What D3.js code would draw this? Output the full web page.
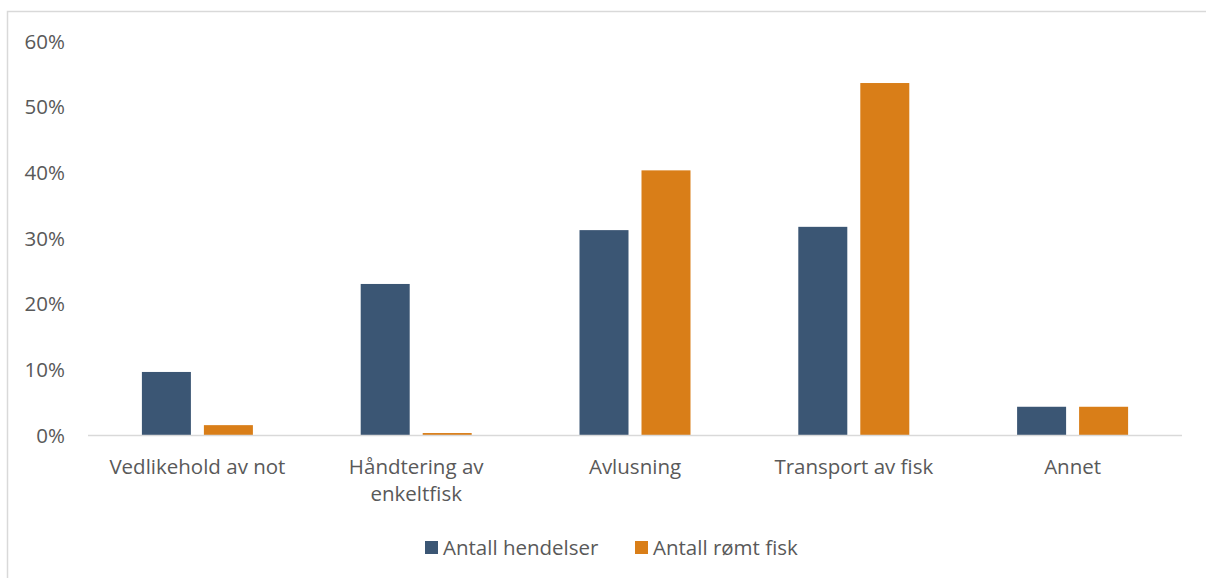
<!DOCTYPE html>
<html>
<head>
<meta charset="utf-8">
<script src="https://cdn.jsdelivr.net/npm/d3@7"></script>
<style>
  html, body { margin: 0; padding: 0; background: #fff; }
  svg text { font-family: "Open Sans", "Noto Sans", sans-serif; fill: #595959; }
</style>
</head>
<body>
<svg id="chart" width="1206" height="578"></svg>
<script>
// Share of escape incidents and escaped fish by cause
const categories = [["Vedlikehold av not"], ["Håndtering av", "enkeltfisk"], ["Avlusning"], ["Transport av fisk"], ["Annet"]];
const seriesNames = ["Antall hendelser", "Antall rømt fisk"];
const hendelser = [9.6, 23.0, 31.2, 31.7, 4.3];
const romtFisk = [1.5, 0.3, 40.3, 53.6, 4.3];
const yTicks = [0, 10, 20, 30, 40, 50, 60];
const colors = ["#3B5674", "#D97E18"];

const svg = d3.select("#chart");
const W = 1206, H = 578;
const fontSize = 20.5;

// outer frame (top and left edges)
svg.append("path")
  .attr("d", `M7.5,${H} V11.5 H${W}`)
  .attr("fill", "none").attr("stroke", "#d9d9d9").attr("stroke-width", 1.5);

const plot = { left: 88, right: 1182, top: 41, bottom: 435 };

const x = d3.scaleBand()
  .domain(d3.range(categories.length))
  .range([plot.left, plot.right])
  .paddingInner(0).paddingOuter(0);

const y = d3.scaleLinear().domain([0, 60]).range([plot.bottom, plot.top]);

// two bars per category, 49px wide with a 13px gap
const groupW = 111;
const sub = d3.scaleBand().domain([0, 1]).range([0, groupW]).paddingInner(13 / 62).paddingOuter(0);

const data = categories.map((c, i) => ({ i, vals: [hendelser[i], romtFisk[i]] }));

// y axis labels
const yAxis = d3.axisLeft(y).tickValues(yTicks).tickFormat(d => d + "%").tickSize(0).tickPadding(0);
const yg = svg.append("g").attr("transform", `translate(${65},0)`).call(yAxis);
yg.select(".domain").remove();
yg.selectAll("text").attr("font-size", fontSize).attr("dy", "0.35em").style("fill", "#595959")
  .style("font-family", '"Open Sans", sans-serif');

// bars
const groups = svg.append("g").selectAll("g").data(data).join("g")
  .attr("transform", d => `translate(${x(d.i) + x.bandwidth() / 2 - groupW / 2},0)`);
groups.selectAll("rect").data(d => d.vals.map((v, k) => ({ v, k }))).join("rect")
  .attr("x", d => sub(d.k))
  .attr("width", sub.bandwidth())
  .attr("y", d => y(d.v))
  .attr("height", d => y(0) - y(d.v))
  .attr("fill", d => colors[d.k]);

// baseline
svg.append("line")
  .attr("x1", plot.left).attr("x2", plot.right)
  .attr("y1", y(0) + 0.5).attr("y2", y(0) + 0.5)
  .attr("stroke", "#d9d9d9").attr("stroke-width", 1.5);

// category labels
const xAxis = d3.axisBottom(x).tickSize(0).tickFormat("");
const xg = svg.append("g").attr("transform", `translate(0,${plot.bottom})`).call(xAxis);
xg.select(".domain").remove();
xg.selectAll(".tick").each(function (d) {
  const t = d3.select(this).append("text")
    .attr("text-anchor", "middle").attr("font-size", fontSize).attr("y", 38.5);
  categories[d].forEach((line, j) => {
    t.append("tspan").attr("x", 0).attr("dy", j === 0 ? 0 : 27).text(line);
  });
});

// legend
const legend = svg.append("g").attr("transform", "translate(425,548)");
const legendX = [0, 210];
seriesNames.forEach((name, k) => {
  const g = legend.append("g").attr("transform", `translate(${legendX[k]},0)`);
  g.append("rect").attr("x", 0).attr("y", -7).attr("width", 13).attr("height", 13).attr("fill", colors[k]);
  g.append("text").attr("x", 18).attr("y", 0).attr("dy", "0.35em").attr("font-size", fontSize).text(name);
});
</script>
</body>
</html>
